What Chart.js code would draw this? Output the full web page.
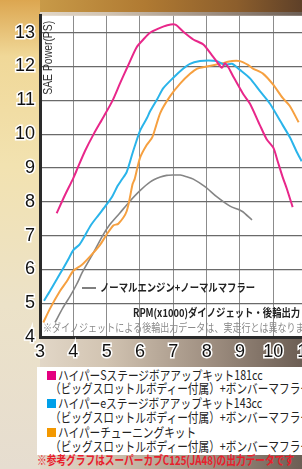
<!DOCTYPE html>
<html>
<head>
<meta charset="utf-8">
<script src="https://cdn.jsdelivr.net/npm/chart.js@4"></script>
<style>
html, body { margin: 0; padding: 0; width: 302px; height: 469px; overflow: hidden; }
body { position: relative; background: linear-gradient(to right, #ebe2d4 0%, #d2c4b2 35%, #9e8e80 70%, #6c5e54 100%); }
#left { position: absolute; left: 0; top: 0; width: 40px; height: 469px;
  background: linear-gradient(to bottom, #dca650 0%, #f0d898 12%, #f2e2b0 35%, #ece2c8 65%, #e6ddd0 100%); }
#topband { position: absolute; left: 40px; top: 0; width: 262px; height: 12px;
  background: linear-gradient(to right, #c89a48, #b07a32 40%, #8c5e2c 75%, #5e4028); }
#chart { position: absolute; left: 0; top: 0; }
#legend { position: absolute; left: 37px; top: 367px; width: 270px; height: 88px; background: #fff; }
.row { position: absolute; white-space: nowrap; font-family: "Noto Sans CJK JP", sans-serif; font-size: 13px;
  line-height: 14px; color: #222; transform: scaleX(0.82); transform-origin: left center; }
.mark { position: absolute; width: 9px; height: 9px; }
.note { color: #e8202c; font-weight: bold; font-size: 12.5px; transform: scaleX(0.775); }
</style>
</head>
<body>
<div id="left"></div>
<div id="topband"></div>
<canvas id="chart" width="320" height="360"></canvas>
<div id="legend"></div>
<div class="mark" style="left:47px;top:371px;background:#e4007f"></div>
<div class="row" style="left:58px;top:368px">ハイパーSステージボアアップキット181cc</div>
<div class="row" style="left:50px;top:381px">（ビッグスロットルボディー付属）+ボンバーマフラー</div>
<div class="mark" style="left:47px;top:399px;background:#00a0e9"></div>
<div class="row" style="left:58px;top:396px">ハイパーeステージボアアップキット143cc</div>
<div class="row" style="left:50px;top:410px">（ビッグスロットルボディー付属）+ボンバーマフラー</div>
<div class="mark" style="left:47px;top:428px;background:#f39800"></div>
<div class="row" style="left:58px;top:425px">ハイパーチューニングキット</div>
<div class="row" style="left:50px;top:439px">（ビッグスロットルボディー付属）+ボンバーマフラー</div>
<div class="row note" style="left:37px;top:453px">※参考グラフはスーパーカブC125(JA48)の出力データです</div>
<script>
// ハイパーSステージ 181cc
const rpmS181 = [3.5, 3.75, 4.0, 4.13, 4.35, 4.61, 4.9, 5.18, 5.4, 5.63, 5.9, 6.1, 6.3, 6.55, 6.82, 7.06, 7.3, 7.6, 7.9, 8.16, 8.3, 8.46, 8.55, 8.65, 8.8, 9.1, 9.3, 9.6, 9.8, 10.0, 10.13, 10.28, 10.4, 10.58];
const pwrS181 = [7.66, 8.2, 8.7, 9.0, 9.5, 10.0, 10.5, 11.0, 11.5, 12.0, 12.57, 12.8, 13.0, 13.12, 13.22, 13.24, 13.03, 12.8, 12.65, 12.33, 12.15, 11.96, 12.1, 11.98, 11.7, 11.18, 10.9, 10.26, 9.85, 9.6, 9.2, 8.73, 8.4, 7.84];
// ハイパーeステージ 143cc
const rpmE143 = [3.12, 3.3, 3.5, 3.69, 3.85, 4.0, 4.19, 4.35, 4.52, 4.75, 5.0, 5.18, 5.33, 5.45, 5.6, 5.78, 6.0, 6.2, 6.31, 6.52, 6.7, 7.0, 7.3, 7.5, 7.8, 8.05, 8.3, 8.55, 8.76, 9.0, 9.3, 9.6, 9.9, 10.2, 10.5, 10.7, 10.85];
const pwrE143 = [5.07, 5.36, 5.7, 6.02, 6.3, 6.57, 6.74, 7.0, 7.3, 7.6, 7.92, 8.18, 8.47, 8.65, 8.88, 9.45, 10.1, 10.46, 10.69, 11.04, 11.36, 11.67, 11.94, 12.08, 12.16, 12.18, 12.16, 12.05, 12.08, 11.9, 11.65, 11.27, 10.9, 10.4, 9.9, 9.48, 9.2];
// ハイパーチューニングキット
const rpmTune = [3.1, 3.3, 3.6, 3.8, 4.0, 4.25, 4.49, 4.79, 5.0, 5.2, 5.35, 5.6, 5.78, 5.84, 6.0, 6.2, 6.37, 6.61, 6.91, 7.21, 7.51, 7.72, 8.0, 8.4, 8.76, 9.0, 9.24, 9.39, 9.69, 9.99, 10.28, 10.49, 10.76];
const pwrTune = [4.43, 4.84, 5.36, 5.64, 5.96, 6.13, 6.37, 6.71, 7.03, 7.3, 7.35, 7.72, 8.53, 8.67, 9.3, 9.68, 9.91, 10.63, 11.13, 11.5, 11.79, 11.94, 12.0, 12.08, 12.16, 12.16, 12.05, 11.94, 11.79, 11.47, 11.07, 10.84, 10.35];
// ノーマルエンジン+ノーマルマフラー
const rpmNormal = [3.45, 3.69, 3.9, 4.1, 4.28, 4.58, 4.88, 5.09, 5.39, 5.69, 6.0, 6.31, 6.61, 6.8, 7.0, 7.21, 7.4, 7.6, 7.96, 8.3, 8.7, 9.06, 9.36];
const pwrNormal = [4.43, 4.87, 5.2, 5.56, 5.93, 6.45, 7.0, 7.32, 7.66, 8.01, 8.33, 8.59, 8.73, 8.78, 8.79, 8.79, 8.74, 8.67, 8.44, 8.15, 7.87, 7.72, 7.46];

const pts = (xs, ys) => xs.map((x, i) => ({x: x, y: ys[i]}));
const tickFont = {family: '"Liberation Sans Narrow", "Liberation Sans", sans-serif', size: 18};

function squeeze(ctx, text, x, y, sx) {
    ctx.save();
    ctx.translate(x, y);
    ctx.scale(sx, 1);
    ctx.fillText(text, 0, 0);
    ctx.restore();
}

const decor = {
    id: 'decor',
    beforeDraw(chart) {
        const {ctx, chartArea: a} = chart;
        ctx.save();
        ctx.fillStyle = '#fff';
        ctx.fillRect(a.left, a.top, a.right - a.left, a.bottom - a.top);
        ctx.restore();
    },
    afterDatasetsDraw(chart) {
        const {ctx, chartArea: a} = chart;
        ctx.save();
        ctx.textBaseline = 'middle';
        ctx.textAlign = 'left';
        // y axis title
        ctx.save();
        ctx.translate(a.left + 9, a.top + 79);
        ctx.rotate(-Math.PI / 2);
        ctx.fillStyle = '#333';
        ctx.font = '12px "Liberation Sans", sans-serif';
        ctx.fillText('SAE Power(PS)', 0, 0, 74);
        ctx.restore();
        // normal engine label
        ctx.strokeStyle = '#555';
        ctx.lineWidth = 1.5;
        ctx.beginPath();
        ctx.moveTo(a.left + 42, a.bottom - 49);
        ctx.lineTo(a.left + 56, a.bottom - 49);
        ctx.stroke();
        ctx.fillStyle = '#222';
        ctx.font = 'bold 11px "Noto Sans CJK JP", sans-serif';
        squeeze(ctx, 'ノーマルエンジン+ノーマルマフラー', a.left + 60, a.bottom - 49, 0.85);
        squeeze(ctx, 'RPM(x1000)ダイノジェット・後輪出力', a.left + 93, a.bottom - 24, 0.85);
        ctx.fillStyle = '#8a8a8a';
        ctx.font = '11px "Noto Sans CJK JP", sans-serif';
        squeeze(ctx, '※ダイノジェットによる後輪出力データは、実走行とは異なります。', a.left + 3, a.bottom - 9, 0.82);
        ctx.restore();
    }
};

new Chart(document.getElementById('chart'), {
    type: 'line',
    data: {
        datasets: [
            {label: 'ハイパーSステージボアアップキット181cc', data: pts(rpmS181, pwrS181), borderColor: '#e8278a', borderWidth: 2},
            {label: 'ハイパーeステージボアアップキット143cc', data: pts(rpmE143, pwrE143), borderColor: '#2ab4ea', borderWidth: 2},
            {label: 'ハイパーチューニングキット', data: pts(rpmTune, pwrTune), borderColor: '#f6a040', borderWidth: 2},
            {label: 'ノーマルエンジン+ノーマルマフラー', data: pts(rpmNormal, pwrNormal), borderColor: '#858585', borderWidth: 1.6}
        ]
    },
    options: {
        responsive: false,
        animation: false,
        elements: {point: {radius: 0}, line: {tension: 0.25}},
        layout: {padding: {top: 8, right: 12, left: 0, bottom: 0}},
        plugins: {legend: {display: false}, tooltip: {enabled: false}},
        scales: {
            x: {
                type: 'linear', min: 3, max: 11,
                ticks: {stepSize: 1, padding: 4, color: '#111', font: tickFont, textStrokeColor: '#fff', textStrokeWidth: 3, maxRotation: 0, autoSkip: false},
                grid: {color: '#8c8c8c', lineWidth: 1, drawTicks: false},
                border: {color: '#2a2a2a', width: 3},
                afterFit(s) { s.height = 23; }
            },
            y: {
                min: 4, max: 13.5,
                ticks: {stepSize: 1, includeBounds: false, padding: 5, color: '#111', font: tickFont, textStrokeColor: '#fff', textStrokeWidth: 3},
                grid: {color: '#6a6a6a', lineWidth: 1.2, drawTicks: false},
                border: {color: '#2a2a2a', width: 3},
                afterFit(s) { s.width = 40; }
            }
        }
    },
    plugins: [decor]
});
</script>
</body>
</html>
